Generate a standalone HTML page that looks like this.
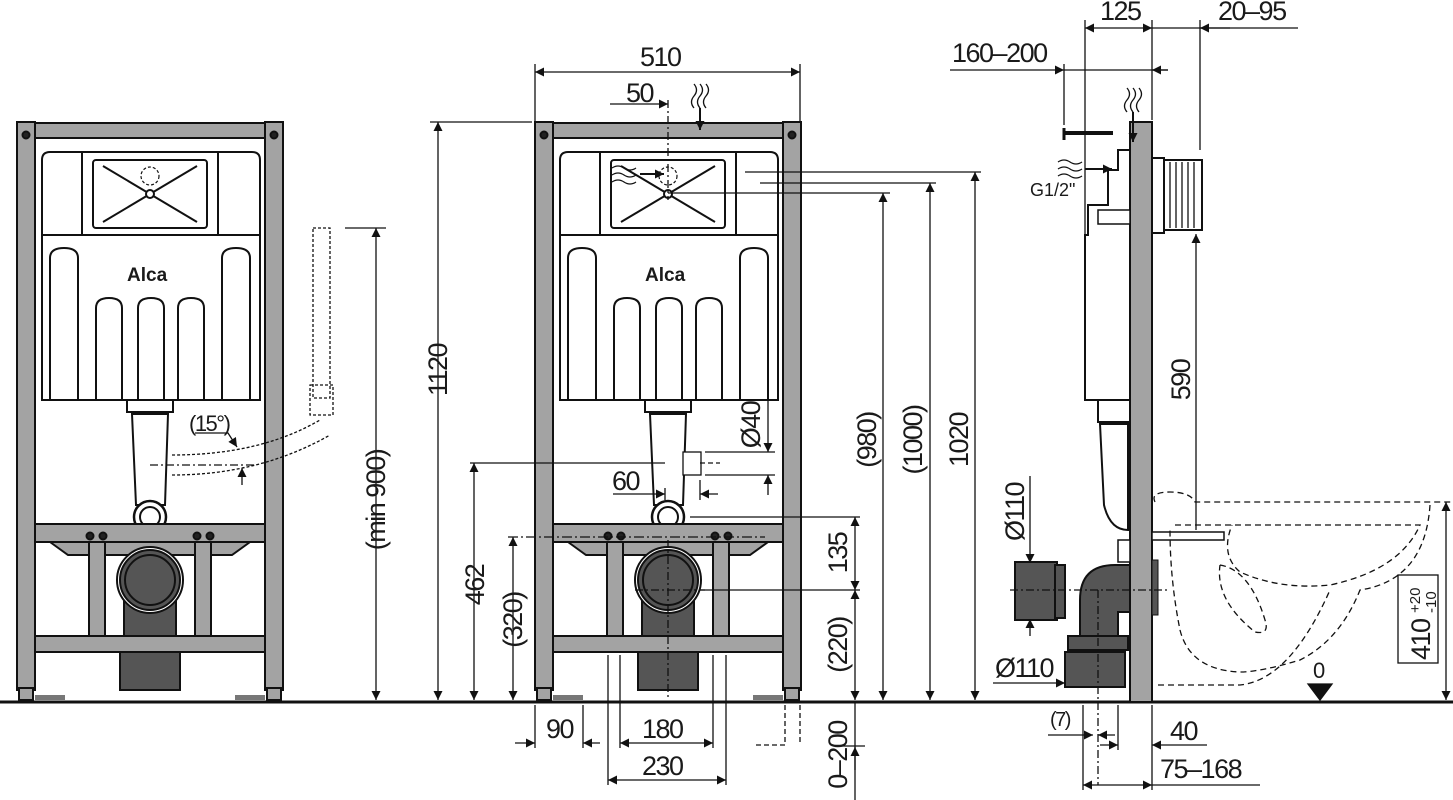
<!DOCTYPE html>
<html><head><meta charset="utf-8"><style>
html,body{margin:0;padding:0;background:#fff}
svg{display:block}
text{font-family:"Liberation Sans Narrow","Liberation Sans",sans-serif;font-size:27px;fill:#1a1a1a;letter-spacing:-1.5px}
</style></head><body>
<svg width="1453" height="800" viewBox="0 0 1453 800" xmlns="http://www.w3.org/2000/svg">
<defs>
<marker id="a" viewBox="0 0 10 10" refX="10" refY="5" markerWidth="14" markerHeight="9" orient="auto-start-reverse" markerUnits="userSpaceOnUse"><path d="M0,0L10,5L0,10z" fill="#111"/></marker>
<g id="fr" stroke="#111" stroke-width="2">
 <rect x="17" y="122" width="18" height="568" fill="#a3a3a3"/>
 <rect x="265" y="122" width="18" height="568" fill="#a3a3a3"/>
 <rect x="19" y="688" width="14" height="12" fill="#a3a3a3"/>
 <rect x="267" y="688" width="14" height="12" fill="#a3a3a3"/>
 <rect x="35" y="123" width="230" height="15" fill="#a3a3a3"/>
 <circle cx="26" cy="135" r="3.5" fill="#222"/><circle cx="274" cy="135" r="3.5" fill="#222"/>
 <path d="M42,400 V160 q0,-8 8,-8 H252 q8,0 8,8 V400 Z" fill="#fff"/>
 <line x1="42" y1="235" x2="260" y2="235"/>
 <rect x="82" y="152" width="136" height="83" fill="#fff"/>
 <rect x="93" y="160" width="114" height="68" fill="#fff" rx="3"/>
 <line x1="103" y1="166" x2="197" y2="222"/><line x1="197" y1="166" x2="103" y2="222"/>
 <circle cx="150" cy="194" r="4" fill="#fff"/>
 <circle cx="150" cy="176" r="9" fill="none" stroke-width="1.2" stroke-dasharray="3,2"/>
 <path d="M50,400 V258 q0,-10 14,-10 q14,0 14,10 V400" fill="none"/>
 <path d="M222,400 V258 q0,-10 14,-10 q14,0 14,10 V400" fill="none"/>
 <path d="M96,400 V308 q0,-10 13,-10 q13,0 13,10 V400" fill="none"/>
 <path d="M138,400 V308 q0,-10 13,-10 q13,0 13,10 V400" fill="none"/>
 <path d="M178,400 V308 q0,-10 13,-10 q13,0 13,10 V400" fill="none"/>
 <rect x="127" y="400" width="46" height="12" fill="#fff"/>
 <path d="M132,414 H168 L165,505 H136 Z" fill="#fff"/>
 <circle cx="150" cy="517" r="16" fill="#fff" stroke-width="2.5"/>
 <circle cx="150" cy="517" r="10" fill="#fff"/>
 <rect x="35" y="524" width="230" height="18" fill="#a3a3a3"/>
 <path d="M50,542 L68,555 H232 L250,542 Z" fill="#a3a3a3"/>
 <rect x="89" y="542" width="16" height="94" fill="#a3a3a3"/>
 <rect x="195" y="542" width="16" height="94" fill="#a3a3a3"/>
 <circle cx="90" cy="536" r="3.5" fill="#222"/><circle cx="103" cy="536" r="3.5" fill="#222"/>
 <circle cx="197" cy="536" r="3.5" fill="#222"/><circle cx="210" cy="536" r="3.5" fill="#222"/>
 <rect x="124" y="580" width="52" height="56" fill="#555"/>
 <circle cx="150" cy="580" r="33" fill="#fff"/>
 <circle cx="150" cy="580" r="30" fill="#555"/>
 <circle cx="150" cy="580" r="25" fill="#555"/>
 <rect x="35" y="636" width="230" height="16" fill="#a3a3a3"/>
 <rect x="120" y="652" width="60" height="38" fill="#555"/>
 <rect x="35" y="695" width="30" height="5" fill="#777" stroke="none"/>
 <rect x="235" y="695" width="30" height="5" fill="#777" stroke="none"/>
</g>
</defs>
<g stroke="#111" stroke-width="1.3" fill="none">
<line x1="0" y1="702" x2="1453" y2="702" stroke-width="3"/>
</g>
<use href="#fr"/>
<use href="#fr" transform="translate(518,0)"/>
<text x="127" y="281" style="font-family:'Liberation Sans',sans-serif;font-size:19px;font-weight:bold;letter-spacing:0">Alca</text>
<text x="645" y="281" style="font-family:'Liberation Sans',sans-serif;font-size:19px;font-weight:bold;letter-spacing:0">Alca</text>
<g stroke="#111" stroke-width="1.3" fill="none">
 <rect x="313" y="228" width="17" height="170" stroke-dasharray="3,2"/>
 <rect x="310" y="385" width="23" height="30" stroke-dasharray="3,2"/>
 <path d="M172,455 Q260,455 320,420 M172,475 Q260,475 330,435" stroke-dasharray="3,2"/>
 <line x1="150" y1="465" x2="255" y2="465" stroke-dasharray="8,3,2,3"/>
 <line x1="242" y1="485" x2="242" y2="468" marker-end="url(#a)"/>
 <path d="M195,433 H228 L237,447" marker-end="url(#a)"/>
 <line x1="345" y1="228" x2="386" y2="228"/>
 <line x1="376" y1="228" x2="376" y2="700" marker-start="url(#a)" marker-end="url(#a)"/>
 <line x1="535" y1="64" x2="535" y2="122"/><line x1="800" y1="64" x2="800" y2="122"/>
 <line x1="535" y1="72" x2="800" y2="72" marker-start="url(#a)" marker-end="url(#a)"/>
 <line x1="610" y1="104" x2="668" y2="104" marker-end="url(#a)"/>
 <line x1="668" y1="100" x2="668" y2="200" stroke-dasharray="8,3,2,3"/>
 <path d="M694,108 q-5,-6 0,-12 q5,-6 0,-12 M700,108 q-5,-6 0,-12 q5,-6 0,-12 M706,108 q-5,-6 0,-12 q5,-6 0,-12"/>
 <line x1="700" y1="108" x2="700" y2="130" marker-end="url(#a)" stroke-width="2"/>
 <path d="M612,168 q6,-4 12,0 q6,4 12,0 M612,175 q6,-4 12,0 q6,4 12,0 M612,182 q6,-4 12,0 q6,4 12,0"/>
 <line x1="640" y1="174" x2="664" y2="174" marker-end="url(#a)" stroke-width="2"/>
 <line x1="430" y1="122" x2="532" y2="122"/>
 <line x1="438" y1="122" x2="438" y2="700" marker-start="url(#a)" marker-end="url(#a)"/>
 <line x1="470" y1="463" x2="665" y2="463"/>
 <line x1="474" y1="463" x2="474" y2="700" marker-start="url(#a)" marker-end="url(#a)"/>
 <line x1="508" y1="537" x2="765" y2="537" stroke-dasharray="10,3,2,3"/>
 <line x1="513" y1="537" x2="513" y2="700" marker-start="url(#a)" marker-end="url(#a)"/>
 <line x1="668" y1="193" x2="890" y2="193"/>
 <line x1="883" y1="193" x2="883" y2="700" marker-start="url(#a)" marker-end="url(#a)"/>
 <line x1="760" y1="183" x2="936" y2="183"/>
 <line x1="930" y1="183" x2="930" y2="700" marker-start="url(#a)" marker-end="url(#a)"/>
 <line x1="745" y1="172" x2="981" y2="172"/>
 <line x1="975" y1="172" x2="975" y2="700" marker-start="url(#a)" marker-end="url(#a)"/>
 <line x1="690" y1="517" x2="860" y2="517"/>
 <line x1="700" y1="590" x2="860" y2="590"/>
 <line x1="855" y1="517" x2="855" y2="590" marker-start="url(#a)" marker-end="url(#a)"/>
 <line x1="855" y1="590" x2="855" y2="700" marker-start="url(#a)" marker-end="url(#a)"/>
 <line x1="855" y1="702" x2="855" y2="800"/>
 <line x1="855" y1="770" x2="855" y2="747" marker-end="url(#a)"/>
 <line x1="835" y1="746" x2="865" y2="746"/>
 <path d="M785,705 V745 H755 M800,705 V745" stroke-dasharray="5,3"/>
 <line x1="635" y1="590" x2="705" y2="590" stroke-dasharray="8,3,2,3"/>
 <line x1="668" y1="540" x2="668" y2="700" stroke-dasharray="8,3,2,3"/>
 <rect x="683" y="452" width="18" height="23" fill="#fff"/>
 <line x1="705" y1="452" x2="775" y2="452"/><line x1="705" y1="475" x2="775" y2="475"/>
 <line x1="768" y1="400" x2="768" y2="452" marker-end="url(#a)"/>
 <line x1="768" y1="495" x2="768" y2="475" marker-end="url(#a)"/>
 <line x1="700" y1="463" x2="720" y2="463" stroke-dasharray="5,3"/>
 <line x1="665" y1="488" x2="665" y2="500"/><line x1="700" y1="480" x2="700" y2="500"/>
 <line x1="613" y1="494" x2="665" y2="494" marker-end="url(#a)"/>
 <line x1="718" y1="494" x2="700" y2="494" marker-end="url(#a)"/>
 <line x1="535" y1="705" x2="535" y2="748"/><line x1="583" y1="705" x2="583" y2="748"/>
 <line x1="515" y1="743" x2="535" y2="743" marker-end="url(#a)"/>
 <line x1="600" y1="743" x2="583" y2="743" marker-end="url(#a)"/>
 <line x1="608" y1="655" x2="608" y2="785"/><line x1="620" y1="655" x2="620" y2="748"/>
 <line x1="713" y1="655" x2="713" y2="748"/><line x1="726" y1="655" x2="726" y2="785"/>
 <line x1="620" y1="743" x2="713" y2="743" marker-start="url(#a)" marker-end="url(#a)"/>
 <line x1="608" y1="780" x2="726" y2="780" marker-start="url(#a)" marker-end="url(#a)"/>
</g>
<g stroke="#111" stroke-width="2">
 <path d="M1085,235 V400 H1130 V150 H1118 V170 H1108 V205 H1088 V235 Z" fill="#fff"/>
 <rect x="1130" y="122" width="22" height="580" fill="#a3a3a3"/>
 <rect x="1152" y="158" width="12" height="75" fill="#fff"/>
 <rect x="1164" y="160" width="38" height="70" fill="#fff"/>
 <path d="M1170,162 V228 M1176,162 V228 M1182,162 V228 M1188,162 V228 M1194,162 V228" stroke-width="1.3"/>
 <line x1="1065" y1="133" x2="1113" y2="133" stroke-width="4"/>
 <line x1="1064" y1="128" x2="1064" y2="140" stroke-width="3"/>
 <rect x="1098" y="210" width="32" height="14" fill="#fff" stroke-width="1.5"/>
 <rect x="1098" y="400" width="32" height="22" fill="#fff"/>
 <path d="M1100,424 H1128 V530 Q1110,530 1104,505 Z" fill="#fff"/>
 <path d="M1080,665 V600 Q1080,565 1115,565 H1130 V612 H1118 V665 Z" fill="#555"/>
 <rect x="1068" y="636" width="60" height="14" fill="#555"/>
 <rect x="1065" y="652" width="60" height="35" fill="#555"/>
 <rect x="1015" y="562" width="42" height="58" fill="#555"/>
 <rect x="1055" y="565" width="10" height="53" fill="#555"/>
 <rect x="1118" y="540" width="12" height="22" fill="#fff" stroke-width="1.5"/>
 <rect x="1152" y="560" width="6" height="55" fill="#555" stroke-width="1"/>
 <rect x="1152" y="532" width="72" height="8" fill="#fff" stroke-width="1.5"/>
</g>
<g stroke="#111" stroke-width="1.3" fill="none">
 <path d="M1127,112 q-5,-6 0,-12 q5,-6 0,-12 M1133,112 q-5,-6 0,-12 q5,-6 0,-12 M1139,112 q-5,-6 0,-12 q5,-6 0,-12"/>
 <line x1="1133" y1="112" x2="1133" y2="142" marker-end="url(#a)" stroke-width="2"/>
 <path d="M1058,162 q6,-4 12,0 q6,4 12,0 M1058,169 q6,-4 12,0 q6,4 12,0 M1058,176 q6,-4 12,0 q6,4 12,0"/>
 <line x1="1085" y1="169" x2="1112" y2="169" marker-end="url(#a)" stroke-width="2"/>
 <g stroke-dasharray="6,4">
  <path d="M1155,502 Q1150,492 1170,492 Q1190,492 1195,502 H1453"/>
  <path d="M1430,505 Q1425,580 1360,590 Q1340,640 1300,660 Q1260,672 1240,672 Q1190,670 1180,630 Q1170,580 1170,530"/>
  <path d="M1175,525 H1420 Q1400,570 1330,585 Q1280,590 1240,572 Q1220,555 1232,525"/>
  <path d="M1220,565 Q1250,570 1265,620 Q1270,635 1255,632 Q1215,600 1220,565"/>
  <path d="M1158,685 H1240 Q1290,680 1330,590"/>
 </g>
 <line x1="1085" y1="20" x2="1085" y2="235"/><line x1="1152" y1="20" x2="1152" y2="120"/>
 <line x1="1085" y1="28" x2="1152" y2="28" marker-start="url(#a)" marker-end="url(#a)"/>
 <line x1="1152" y1="28" x2="1298" y2="28"/>
 <line x1="1200" y1="20" x2="1200" y2="150"/>
 <line x1="1230" y1="28" x2="1200" y2="28" marker-end="url(#a)"/>
 <line x1="1064" y1="64" x2="1064" y2="125"/>
 <line x1="950" y1="70" x2="1064" y2="70" marker-end="url(#a)"/>
 <line x1="1064" y1="70" x2="1168" y2="70"/>
 <line x1="1168" y1="70" x2="1152" y2="70" marker-end="url(#a)"/>
 <line x1="1196" y1="530" x2="1196" y2="234" marker-end="url(#a)"/>
 <line x1="1030" y1="476" x2="1030" y2="563" marker-end="url(#a)"/>
 <line x1="1030" y1="636" x2="1030" y2="619" marker-end="url(#a)"/>
 <line x1="1010" y1="590" x2="1170" y2="590" stroke-dasharray="8,3,2,3"/>
 <line x1="1098" y1="590" x2="1098" y2="785" stroke-dasharray="8,3,2,3"/>
 <line x1="993" y1="683" x2="1065" y2="683" marker-end="url(#a)"/>
 <line x1="1118" y1="705" x2="1118" y2="750"/><line x1="1152" y1="705" x2="1152" y2="790"/>
 <line x1="1083" y1="705" x2="1083" y2="790"/>
 <line x1="1048" y1="735" x2="1093" y2="735" marker-end="url(#a)"/>
 <line x1="1115" y1="735" x2="1098" y2="735" marker-end="url(#a)"/>
 <line x1="1100" y1="745" x2="1118" y2="745" marker-end="url(#a)"/>
 <line x1="1207" y1="745" x2="1152" y2="745" marker-end="url(#a)"/>
 <line x1="1083" y1="785" x2="1152" y2="785" marker-start="url(#a)" marker-end="url(#a)"/>
 <line x1="1152" y1="785" x2="1260" y2="785"/>
 <line x1="1446" y1="502" x2="1446" y2="700" marker-start="url(#a)" marker-end="url(#a)"/>
 <rect x="1398" y="575" width="40" height="88" fill="#fff"/>
 <path d="M1308,684 H1332 L1320,700 Z" fill="#111"/>
</g>
<text x="640" y="66">510</text>
<text x="626" y="102">50</text>
<text x="612" y="490">60</text>
<text x="546" y="738">90</text>
<text x="642" y="738">180</text>
<text x="642" y="775">230</text>
<text x="189" y="431" style="font-size:22px">(15°)</text>
<text x="1100" y="20">125</text>
<text x="1218" y="20">20–95</text>
<text x="952" y="62">160–200</text>
<text x="1030" y="196" style="font-size:18px;letter-spacing:0">G1/2"</text>
<text x="995" y="677">Ø110</text>
<text x="1050" y="726" style="font-size:20px">(7)</text>
<text x="1170" y="740">40</text>
<text x="1160" y="778">75–168</text>
<text x="1313" y="678" style="font-size:22px">0</text>
<g style="font-size:27px">
<text transform="translate(385,500) rotate(-90)" text-anchor="middle">(min 900)</text>
<text transform="translate(447,370) rotate(-90)" text-anchor="middle">1120</text>
<text transform="translate(484,585) rotate(-90)" text-anchor="middle">462</text>
<text transform="translate(522,620) rotate(-90)" text-anchor="middle">(320)</text>
<text transform="translate(876,440) rotate(-90)" text-anchor="middle">(980)</text>
<text transform="translate(922,440) rotate(-90)" text-anchor="middle">(1000)</text>
<text transform="translate(968,440) rotate(-90)" text-anchor="middle">1020</text>
<text transform="translate(760,425) rotate(-90)" text-anchor="middle">Ø40</text>
<text transform="translate(847,553) rotate(-90)" text-anchor="middle">135</text>
<text transform="translate(847,645) rotate(-90)" text-anchor="middle">(220)</text>
<text transform="translate(847,755) rotate(-90)" text-anchor="middle">0–200</text>
<text transform="translate(1190,380) rotate(-90)" text-anchor="middle">590</text>
<text transform="translate(1024,512) rotate(-90)" text-anchor="middle">Ø110</text>
<text transform="translate(1430,660) rotate(-90)">410</text>
<text transform="translate(1420,613) rotate(-90)" style="font-size:15px;letter-spacing:0">+20</text>
<text transform="translate(1436,613) rotate(-90)" style="font-size:15px;letter-spacing:0">-10</text>
</g>
</svg>
</body></html>
